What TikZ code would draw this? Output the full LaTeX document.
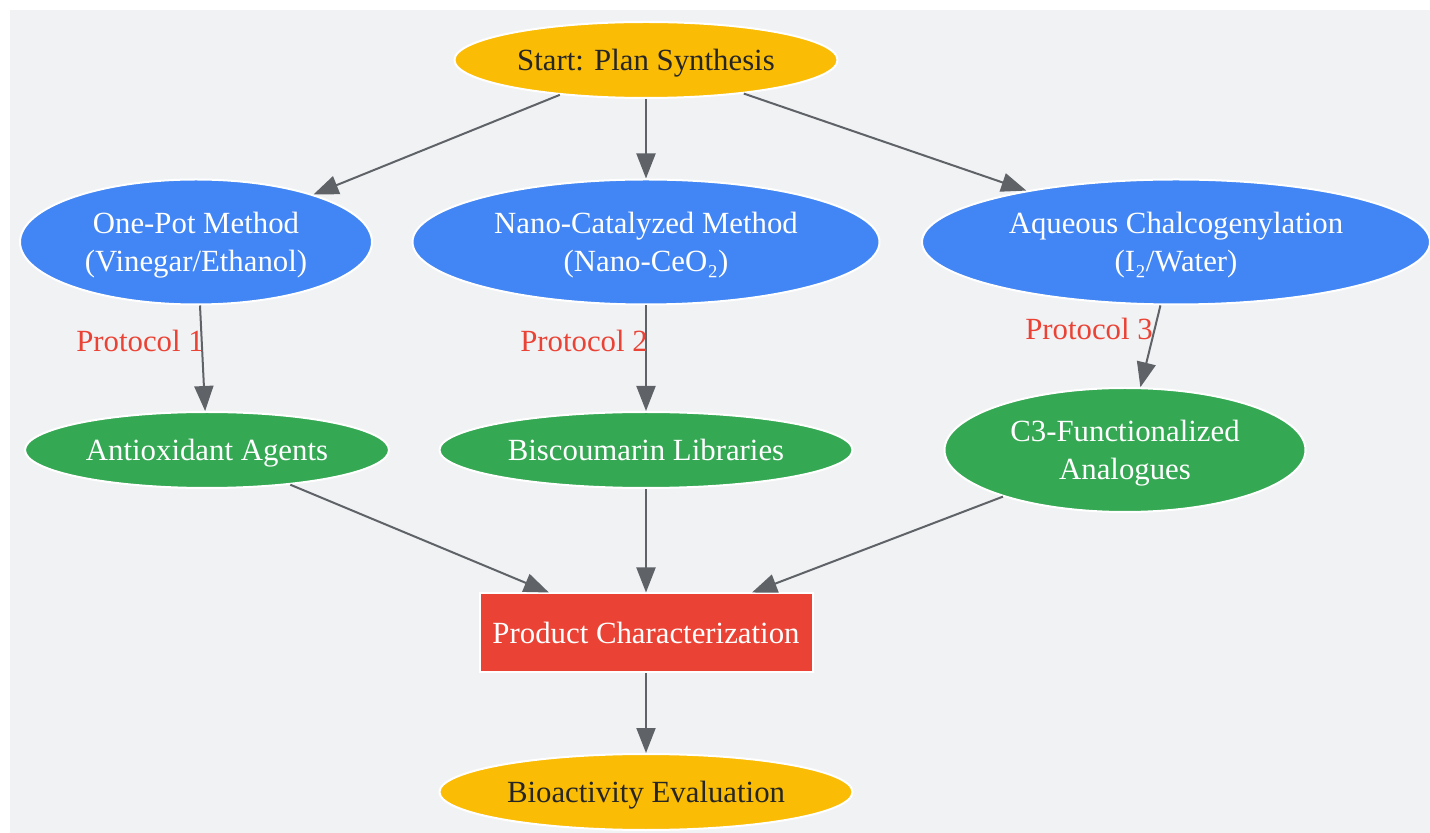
\documentclass[tikz,border=0pt]{standalone}
\usepackage{fontspec}
\setmainfont{Liberation Serif}
\usetikzlibrary{shapes.geometric,arrows.meta}

\definecolor{bgfill}{HTML}{F1F2F4}
\definecolor{gblue}{HTML}{4285F4}
\definecolor{ggreen}{HTML}{34A853}
\definecolor{gred}{HTML}{EA4335}
\definecolor{gyellow}{HTML}{FBBC05}
\definecolor{edgegray}{HTML}{5F6368}

\begin{document}
\begin{tikzpicture}[x=0.5pt,y=-0.5pt,
    every node/.style={font=\fontsize{15.4}{19}\selectfont},
    oval/.style={ellipse,draw=white,line width=1pt,inner sep=0pt,align=center,text depth=0pt},
    startend/.style={oval,fill=gyellow,text=black!85},
    method/.style={oval,fill=gblue,text=white,minimum height=62.5pt},
    result/.style={oval,fill=ggreen,text=white},
    checkbox/.style={rectangle,draw=white,line width=1pt,fill=gred,text=white,
        minimum width=166.5pt,minimum height=39.5pt},
    proto/.style={text=gred,inner sep=0pt},
    arr/.style={-{Triangle[length=12.5pt,width=9.5pt]},draw=edgegray,line width=1pt}]

    % Background
    \useasboundingbox (0,0) rectangle (1430,833);
    \fill[bgfill] (10,10) rectangle (1430,833);

    % Start
    \node[startend,minimum width=191.5pt,minimum height=38pt] (start) at (646,60) {Start: Plan Synthesis};

    % Methods
    \node[method,minimum width=176pt] (onepot) at (196,242) {One-Pot Method\\(Vinegar/Ethanol)};
    \node[method,minimum width=233.5pt] (nano) at (646,242) {Nano-Catalyzed Method\\(Nano-CeO₂)};
    \node[method,minimum width=254pt] (aqueous) at (1176,242) {Aqueous Chalcogenylation\\(I₂/Water)};

    % Products
    \node[result,minimum width=182pt,minimum height=38pt] (antiox) at (207,450) {Antioxidant Agents};
    \node[result,minimum width=206.5pt,minimum height=38pt] (biscou) at (646,450) {Biscoumarin Libraries};
    \node[result,minimum width=180.5pt,minimum height=62pt] (cthree) at (1125,450) {C3-Functionalized\\Analogues};

    % Characterization and evaluation
    \node[checkbox] (charact) at (646,633) {Product Characterization};
    \node[startend,minimum width=206.5pt,minimum height=38pt] (bioact) at (646,792) {Bioactivity Evaluation};

    % Edges
    \draw[arr] (start) -- (onepot);
    \draw[arr] (start) -- (nano);
    \draw[arr] (start) -- (aqueous);
    \draw[arr] (onepot.south) ++(4,0) coordinate (op1) (op1) -- (antiox);
    \draw[arr] (nano) -- (biscou);
    \draw[arr] (aqueous) -- (cthree);
    \draw[arr] (antiox) -- (charact);
    \draw[arr] (biscou) -- (charact);
    \draw[arr] (cthree) -- (charact);
    \draw[arr] (charact) -- (bioact);

    % Protocol labels
    \node[proto] (prot1) at (140,341) {Protocol 1};
    \node[proto] (prot2) at (584,341) {Protocol 2};
    \node[proto] (prot3) at (1089,329) {Protocol 3};
\end{tikzpicture}
\end{document}
